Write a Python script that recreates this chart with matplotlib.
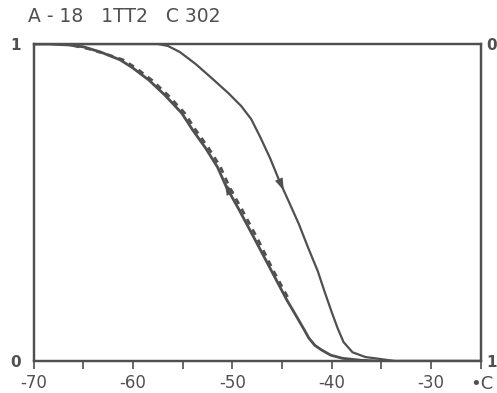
import numpy as np
import matplotlib
matplotlib.use("Agg")
import matplotlib.pyplot as plt

# curve traced upward (arrow up) - solid
temp_up = [-70.0, -68.5, -66.5, -65.0, -63.3, -61.3, -60.0, -58.4, -56.8, -55.1,
           -54.0, -52.7, -51.5, -50.6, -49.3, -47.7, -46.1, -44.5, -43.5, -42.8,
           -42.3, -41.7, -41.0, -40.1, -38.9, -37.1, -35.1, -25.0]
frac_up = [1.0, 1.0, 0.997, 0.991, 0.975, 0.950, 0.924, 0.886, 0.839, 0.782,
           0.729, 0.672, 0.612, 0.549, 0.476, 0.382, 0.287, 0.192, 0.139, 0.101,
           0.073, 0.050, 0.035, 0.019, 0.009, 0.003, 0.0, 0.0]

# dashed companion curve
temp_dash = [-66.0, -64.5, -62.7, -61.0, -59.7, -58.1, -56.5, -54.8, -53.7, -52.4,
             -51.2, -50.3, -49.0, -47.4, -45.9, -44.4]
frac_dash = [0.995, 0.985, 0.968, 0.950, 0.924, 0.886, 0.839, 0.782, 0.729, 0.672,
             0.612, 0.549, 0.476, 0.382, 0.287, 0.200]

# curve traced downward (arrow down)
temp_down = [-70.0, -57.5, -56.5, -55.3, -53.7, -52.1, -50.4, -49.1, -48.1, -47.2,
             -46.2, -45.3, -44.3, -43.3, -42.4, -41.4, -40.7, -40.0, -39.4, -38.8,
             -37.9, -36.6, -34.9, -33.6, -25.0]
frac_down = [1.0, 1.0, 0.994, 0.975, 0.937, 0.893, 0.845, 0.804, 0.763, 0.707,
             0.640, 0.571, 0.502, 0.432, 0.360, 0.284, 0.218, 0.155, 0.104, 0.060,
             0.028, 0.013, 0.006, 0.0, 0.0]

x_ticks = [-70, -60, -50, -40, -30]
title = "A - 18   1TT2   C 302"

ink = "#505050"

fig = plt.figure(figsize=(4.97, 3.93), dpi=100)
ax = fig.add_axes([0.068, 0.081, 0.899, 0.807])

ax.plot(temp_up, frac_up, color=ink, lw=2.0, solid_joinstyle="round")
ax.plot(temp_dash, frac_dash, color=ink, lw=2.0, ls=(0, (2.2, 2.0)))
ax.plot(temp_down, frac_down, color=ink, lw=1.6, solid_joinstyle="round")

# direction arrows
def arrow_on(ts, fs, f_head, f_tail):
    fs_r = np.array(fs)[::-1]
    ts_r = np.array(ts)[::-1]
    head = (np.interp(f_head, fs_r, ts_r), f_head)
    tail = (np.interp(f_tail, fs_r, ts_r), f_tail)
    ax.annotate("", xy=head, xytext=tail,
                arrowprops=dict(arrowstyle="-|>,head_length=0.9,head_width=0.3",
                                color=ink, lw=0))

arrow_on(temp_up, frac_up, 0.57, 0.51)
arrow_on(temp_down, frac_down, 0.53, 0.59)

ax.set_xlim(-70, -25)
ax.set_ylim(0, 1)
ax.set_xticks(x_ticks)
ax.set_xticks(np.arange(-70, -24, 5), minor=True)
ax.set_xticklabels([str(t) for t in x_ticks], color=ink, fontsize=12)
ax.tick_params(axis="x", which="both", direction="out", length=6, width=1.2,
               color=ink, pad=3)
ax.set_yticks([0, 1])
ax.set_yticklabels(["0", "1"], color=ink, fontsize=11, fontweight="bold")
ax.tick_params(axis="y", length=0, pad=9)

ax2 = ax.twinx()
ax2.set_ylim(1, 0)
ax2.set_yticks([0, 1])
ax2.set_yticklabels(["0", "1"], color=ink, fontsize=11, fontweight="bold")
ax2.tick_params(axis="y", length=0, pad=4)

for a in (ax, ax2):
    for s in a.spines.values():
        s.set_color(ink)
        s.set_linewidth(1.6)

fig.text(0.947, 0.0, "•C", color=ink, fontsize=13, ha="left", va="bottom")
fig.text(0.056, 0.935, title, color=ink, fontsize=13.5, ha="left", va="bottom")

fig.savefig("out.png", dpi=100)
